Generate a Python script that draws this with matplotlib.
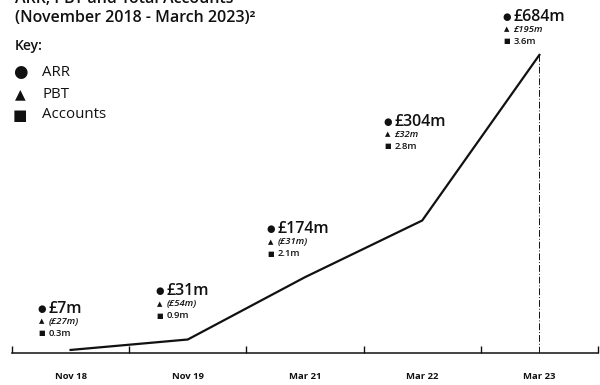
import matplotlib
matplotlib.use("Agg")
import matplotlib.pyplot as plt
import numpy as np

categories = ["Nov 18", "Nov 19", "Mar 21", "Mar 22", "Mar 23"]
arr_m = [7, 31, 174, 304, 684]
pbt_m = [-27, -54, -31, 32, 195]
accounts_m = [0.3, 0.9, 2.1, 2.8, 3.6]

# label block offsets (pixels) of the first row from each point
label_offsets = [(-29, 41), (-28, 48), (-34, 48), (-35, 99), (-33, 38)]

INK = "#111111"
FONT = ["Open Sans", "DejaVu Sans"]
plt.rcParams["font.family"] = FONT

fig = plt.figure(figsize=(6.0, 3.85), dpi=100)
ax = fig.add_axes([12 / 600, 32 / 385, 586 / 600, 353 / 385])
ax.set_xlim(-0.5, len(categories) - 0.5)
ax.set_ylim(0, 810)
for s in ["top", "right", "left"]:
    ax.spines[s].set_visible(False)
ax.spines["bottom"].set_linewidth(1.1)
ax.spines["bottom"].set_color(INK)
ax.set_yticks([])

x = np.arange(len(categories))
ax.set_xticks(x)
ax.set_xticklabels(categories, fontsize=6.8, fontweight="bold", color=INK)
ax.tick_params(axis="x", which="major", length=0, pad=14)
ax.set_xticks(np.arange(-0.5, len(categories)), minor=True)
ax.tick_params(axis="x", which="minor", direction="in", length=5, width=1.0, color=INK)

ax.plot(x, arr_m, color=INK, lw=1.6, solid_joinstyle="round", zorder=3)
ax.plot([x[-1], x[-1]], [0, arr_m[-1]], color=INK, lw=0.7,
        linestyle=(0, (7, 2, 1, 2)), zorder=2)


def fmt_pbt(v):
    return f"(£{abs(v)}m)" if v < 0 else f"£{v}m"


for i, (a, p, c) in enumerate(zip(arr_m, pbt_m, accounts_m)):
    dx, dy = label_offsets[i]
    rows = [
        ("●", 7, f"£{a}m", 11.5, "semibold", "normal", 0),
        ("▲", 5, fmt_pbt(p), 6.8, "semibold", "italic", -12.5),
        ("■", 5, f"{c}m", 6.8, "semibold", "normal", -24.5),
    ]
    for glyph, gsize, txt, tsize, weight, style, ry in rows:
        ax.annotate(glyph, (x[i], a), xytext=(dx, dy + ry), textcoords="offset pixels",
                    ha="center", va="center", fontsize=gsize, color=INK,
                    family="DejaVu Sans", annotation_clip=False)
        ax.annotate(txt, (x[i], a), xytext=(dx + 7, dy + ry), textcoords="offset pixels",
                    ha="left", va="center", fontsize=tsize, fontweight=weight,
                    fontstyle=style, color=INK, annotation_clip=False)

# title block and key
fig.text(15 / 600, 1 - 3 / 385, "ARR, PBT and Total Accounts", fontsize=11.5,
         fontweight="semibold", color=INK, va="baseline", ha="left")
fig.text(15 / 600, 1 - 22 / 385, "(November 2018 - March 2023)²", fontsize=11.5,
         fontweight="semibold", color=INK, va="baseline", ha="left")
fig.text(15 / 600, 1 - 50 / 385, "Key:", fontsize=10, fontweight="semibold",
         color=INK, va="baseline", ha="left")

key_items = [("●", 12, "ARR", 72), ("▲", 10, "PBT", 94), ("■", 11, "Accounts", 115)]
for glyph, gsize, name, ypx in key_items:
    fig.text(20 / 600, 1 - ypx / 385, glyph, fontsize=gsize, color=INK,
             family="DejaVu Sans", ha="center", va="center")
    fig.text(42 / 600, 1 - ypx / 385, name, fontsize=10.8, color=INK,
             ha="left", va="center")

fig.savefig("out.png", dpi=100, facecolor="white")
